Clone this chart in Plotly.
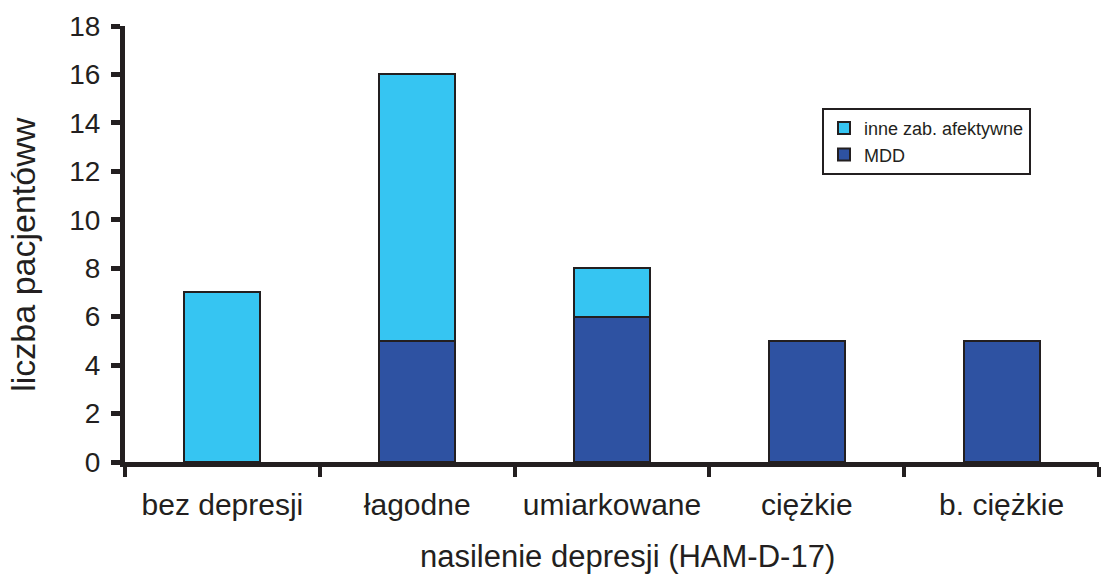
import plotly.graph_objects as go

categories = ["bez depresji", "łagodne", "umiarkowane", "ciężkie", "b. ciężkie"]
mdd = [0, 5, 6, 5, 5]
inne = [7, 11, 2, 0, 0]
y_ticks = [0, 2, 4, 6, 8, 10, 12, 14, 16, 18]

line = dict(color="#231F20", width=2)
fig = go.Figure()
fig.add_trace(go.Bar(x=categories, y=mdd, name="MDD",
                     marker=dict(color="#2E52A2", line=line)))
fig.add_trace(go.Bar(x=categories, y=inne, name="inne zab. afektywne",
                     marker=dict(color="#36C5F2", line=line)))

font = "Liberation Sans, Arial, sans-serif"
W, H = 1103, 577
# plot area in target-picture pixels
X0, X1, Y0, Y1 = 125, 1099, 26, 462.5
L = X0
T = Y0
R = W - X1
B = H - Y1
pw, ph = W - L - R, H - T - B


def px(x):
    return (x - X0) / pw


def py(y):
    return (Y1 - y) / ph


fig.update_layout(
    barmode="stack",
    bargap=0.61,
    width=W, height=H,
    margin=dict(l=L, r=R, t=T, b=B, autoexpand=False),
    plot_bgcolor="white", paper_bgcolor="white",
    font=dict(family=font, color="#231F20"),
    showlegend=True,
    legend=dict(x=px(822), y=py(108), xanchor="left", yanchor="top",
                traceorder="reversed", bordercolor="#231F20", borderwidth=2,
                font=dict(size=18, family=font, color="#231F20"),
                bgcolor="white", tracegroupgap=0, itemwidth=30),
    xaxis=dict(showline=True, linecolor="#231F20", linewidth=5, automargin=False,
               ticks="outside", tickson="boundaries", ticklen=10, tickwidth=4,
               tickcolor="#231F20", tickfont=dict(size=30), ticklabelstandoff=12),
    yaxis=dict(range=[0, 18], tickvals=y_ticks, showline=True, linecolor="#231F20",
               linewidth=5, ticks="outside", ticklen=9, tickwidth=5, automargin=False,
               tickcolor="#231F20", tickfont=dict(size=28), showgrid=False,
               zeroline=False, ticklabelstandoff=5),
    annotations=[
        dict(text="nasilenie depresji (HAM-D-17)", xref="paper", yref="paper",
             x=px(627), y=py(576), xanchor="center", yanchor="bottom",
             showarrow=False, borderpad=0, font=dict(size=31)),
        dict(text="liczba pacjentóww", xref="paper", yref="paper",
             x=px(23), y=py(255), xanchor="center", yanchor="middle",
             textangle=-90, showarrow=False, borderpad=0, font=dict(size=34)),
    ],
)
fig.write_html("out.html", config={"displayModeBar": False},
               post_script="document.body.style.margin='0';document.body.style.padding='0';")
